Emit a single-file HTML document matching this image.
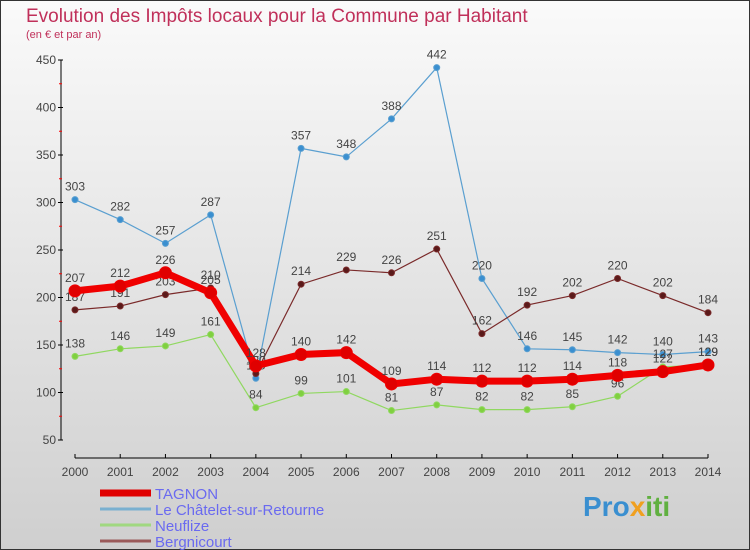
<!DOCTYPE html>
<html><head><meta charset="utf-8"><style>
body{margin:0;width:750px;height:550px;overflow:hidden;font-family:"Liberation Sans",sans-serif}
#wrap{position:absolute;left:0;top:0;width:748px;height:548px;border:1px solid #333;background:linear-gradient(#fafafa,#cfcfcf)}
</style></head><body>
<div id="wrap">
<svg id="svg" width="750" height="550" style="position:absolute;left:-1px;top:-1px">
<text x="26" y="22" font-size="19" fill="#c0305a">Evolution des Impôts locaux pour la Commune par Habitant</text>
<text x="26" y="38" font-size="11" fill="#c0305a">(en € et par an)</text>
<g id="axes"></g><g id="series"></g><g id="legend"></g>
<text x="583" y="516" font-size="28" font-weight="bold" fill="#3a8fd0">Pro<tspan fill="#f0a020">x</tspan><tspan fill="#60b040">iti</tspan></text>
</svg></div>
<script>
const years=[2000,2001,2002,2003,2004,2005,2006,2007,2008,2009,2010,2011,2012,2013,2014];
const tagnon=[207,212,226,205,128,140,142,109,114,112,112,114,118,122,129];
const chatelet=[303,282,257,287,115,357,348,388,442,220,146,145,142,140,143];
const neuflize=[138,146,149,161,84,99,101,81,87,82,82,85,96,127,129];
const bergnicourt=[187,191,203,210,120,214,229,226,251,162,192,202,220,202,184];
const yTicks=[50,100,150,200,250,300,350,400,450];
const NS="http://www.w3.org/2000/svg";
const X=i=>75+i*(633/14), Y=v=>440-(v-50)*0.95;
function mk(t,a,p){const e=document.createElementNS(NS,t);for(const k in a)e.setAttribute(k,a[k]);p.appendChild(e);return e;}
const ax=document.getElementById('axes');
let l=mk('line',{x1:61,y1:60,x2:61,y2:440,stroke:'#000'},ax);


l=mk('line',{x1:75,y1:458,x2:708,y2:458,stroke:'#000'},ax);


yTicks.forEach(v=>{mk('line',{x1:58,y1:Y(v),x2:63,y2:Y(v),stroke:'#000'},ax);
 if(v<450)mk('line',{x1:59,y1:Y(v+25),x2:62,y2:Y(v+25),stroke:'#f00'},ax);
 const t=mk('text',{x:56,y:Y(v)+4,'text-anchor':'end','font-size':12,fill:'#444'},ax);t.textContent=v;
 
 });
years.forEach((y,i)=>{mk('line',{x1:X(i),y1:454,x2:X(i),y2:458,stroke:'#000'},ax);
 const t=mk('text',{x:X(i),y:476,'text-anchor':'middle','font-size':12,fill:'#444'},ax);t.textContent=y;
 
 });
const sg=document.getElementById('series');
function draw(data,col,w,r,dot,name){
 const g=mk('g',{},sg);
 
 
 mk('polyline',{points:data.map((v,i)=>X(i)+','+Y(v)).join(' '),fill:'none',stroke:col,'stroke-width':w},g);
 data.forEach((v,i)=>{const c=mk('circle',{cx:X(i),cy:Y(v),r:r,fill:dot,stroke:col},g);
  
  
  const t=mk('text',{x:X(i),y:Y(v)-9,'text-anchor':'middle','font-size':12,fill:'#444'},g);t.textContent=v;
  
  });
}
draw(chatelet,'#5a9fd0',1.2,3,'#3a8fd0','chatelet-series');
draw(neuflize,'#90d860',1.2,3,'#80d040','neuflize-series');
draw(bergnicourt,'#7a2a2a',1.2,3,'#5a1a1a','bergnicourt-series');
draw(tagnon,'#f00000',7,6,'#e00000','tagnon-series');
const lg=document.getElementById('legend');
[['TAGNON','#e00000',7],['Le Châtelet-sur-Retourne','#7ab0d0',3],['Neuflize','#a0d880',3],['Bergnicourt','#9a5a5a',3]].forEach((s,i)=>{
 const y=493+i*16;
 mk('line',{x1:100,y1:y,x2:151,y2:y,stroke:s[1],'stroke-width':s[2]},lg);
 const t=mk('text',{x:155,y:y+6,'font-size':15,fill:'#6a6af0'},lg);t.textContent=s[0];
 
 });
</script></body></html>
